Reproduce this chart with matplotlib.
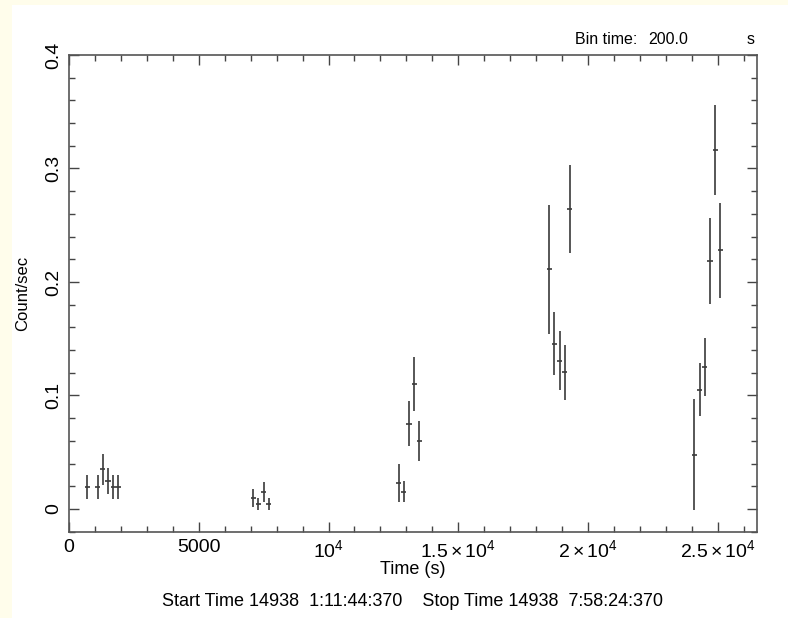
import matplotlib.pyplot as plt
import numpy as np
from matplotlib.patches import Rectangle
from matplotlib.ticker import FixedLocator, MultipleLocator

plt.rcParams['font.family'] = ['Liberation Sans', 'DejaVu Sans']
plt.rcParams['mathtext.fontset'] = 'custom'
plt.rcParams['mathtext.rm'] = 'Liberation Sans'
plt.rcParams['mathtext.it'] = 'Liberation Sans:italic'

# light curve, 200 s bins
time = [700, 1100, 1300, 1500, 1700, 1900,
        7100, 7300, 7500, 7700,
        12700, 12900, 13100, 13300, 13500,
        18500, 18700, 18900, 19100, 19300,
        24100, 24300, 24500, 24700, 24900, 25100]
rate = [0.0197, 0.0197, 0.035, 0.025, 0.0197, 0.0197,
        0.0097, 0.0044, 0.015, 0.0044,
        0.0226, 0.0153, 0.0749, 0.110, 0.0599,
        0.2112, 0.1457, 0.1304, 0.1204, 0.2643,
        0.0478, 0.1051, 0.1254, 0.2185, 0.3163, 0.2279]
rate_err = [0.0105, 0.0105, 0.0135, 0.0115, 0.0105, 0.0105,
            0.0077, 0.0052, 0.0085, 0.0052,
            0.0168, 0.0094, 0.0198, 0.024, 0.0173,
            0.057, 0.0275, 0.026, 0.0245, 0.039,
            0.049, 0.0232, 0.0255, 0.0375, 0.040, 0.042]
half_bin = 100

xticks = [0, 5000, 10000, 15000, 20000, 25000]
xtick_labels = ['0', '5000', r'$10^{4}$', r'$1.5\times10^{4}$', r'$2\times10^{4}$', r'$2.5\times10^{4}$']
yticks = [0, 0.1, 0.2, 0.3, 0.4]
ytick_labels = ['0', '0.1', '0.2', '0.3', '0.4']

fig = plt.figure(figsize=(7.88, 6.18), dpi=100, facecolor='#fffdeb')
fig.patches.append(Rectangle((12 / 788, 0), 1, 1 - 5 / 618, transform=fig.transFigure,
                             facecolor='white', edgecolor='none', zorder=-1))
ax = fig.add_axes([69 / 788, 86 / 618, 688 / 788, 477 / 618])

ax.errorbar(time, rate, yerr=rate_err, xerr=half_bin, fmt='none',
            ecolor='#3a3a3a', elinewidth=1.2, capsize=0)

ax.set_xlim(0, 26510)
ax.set_ylim(-0.0203, 0.4)

ax.xaxis.set_major_locator(FixedLocator(xticks))
ax.set_xticklabels(xtick_labels, fontsize=14)
ax.xaxis.set_minor_locator(MultipleLocator(1000))
ax.yaxis.set_major_locator(FixedLocator(yticks))
ax.set_yticklabels(ytick_labels, fontsize=14, rotation=90, va='center')
ax.yaxis.set_minor_locator(MultipleLocator(0.02))

ax.tick_params(which='both', direction='in', top=True, right=True, color='#444444')
ax.tick_params(which='major', length=7, width=1)
ax.tick_params(which='minor', length=4, width=1)
ax.tick_params(axis='x', pad=5)
ax.tick_params(axis='y', pad=5)
for s in ax.spines.values():
    s.set_color('#555555')
    s.set_linewidth(1.2)

ax.set_xlabel('Time (s)', fontsize=13, labelpad=0)
ax.set_ylabel('Count/sec', fontsize=12, labelpad=11)

fig.text(637 / 788, 1 - 40 / 618, 'Bin time:', fontsize=11.5, va='center', ha='right')
fig.text(648 / 788, 1 - 40 / 618, '200.0', fontsize=11.5, va='center', ha='left')
fig.text(755 / 788, 1 - 40 / 618, 's', fontsize=11.5, va='center', ha='right')
fig.text(412 / 788, 1 - 602 / 618,
         'Start Time 14938  1:11:44:370    Stop Time 14938  7:58:24:370',
         fontsize=13, va='center', ha='center')

plt.savefig('out.png', dpi=100, facecolor=fig.get_facecolor())
